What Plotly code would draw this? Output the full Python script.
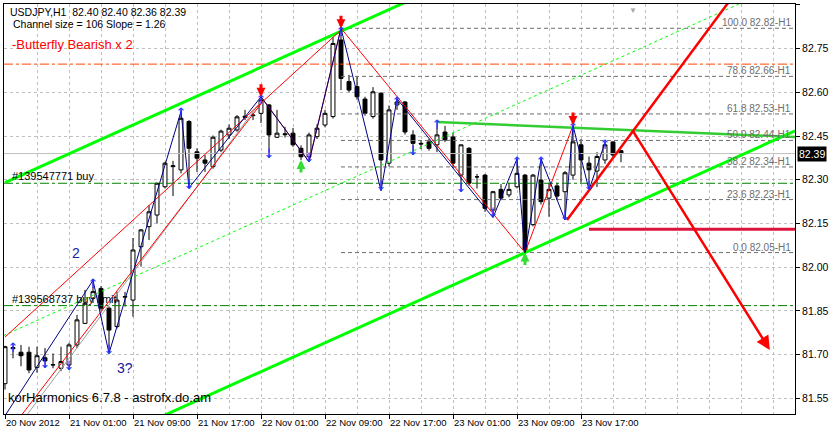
import plotly.graph_objects as go

# ---------------- data ----------------
bar_index = list(range(78))
open_ = [81.600, 81.720, 81.708, 81.708, 81.656, 81.689, 81.664, 81.653, 81.664, 81.733,
         81.807, 81.893, 81.927, 81.859, 81.796, 81.897, 81.887, 82.070, 82.139, 82.179,
         82.276, 82.345, 82.334, 82.500, 82.396, 82.368, 82.345, 82.402, 82.454, 82.471,
         82.514, 82.520, 82.528, 82.557, 82.446, 82.458, 82.460, 82.408, 82.379, 82.448,
         82.488, 82.517, 82.780, 82.637, 82.620, 82.577, 82.517, 82.597, 82.357, 82.557,
         82.567, 82.454, 82.425, 82.430, 82.420, 82.464, 82.447, 82.316, 82.408, 82.310,
         82.316, 82.196, 82.267, 82.248, 82.276, 82.316, 82.146, 82.299, 82.237, 82.279,
         82.259, 82.316, 82.420, 82.357, 82.330, 82.368, 82.430, 82.400]
high = [81.730, 81.733, 81.733, 81.727, 81.727, 81.722, 81.704, 81.727, 81.740, 81.836,
        81.922, 81.955, 81.935, 81.865, 81.915, 81.915, 82.100, 82.130, 82.213, 82.290,
        82.362, 82.365, 82.540, 82.505, 82.408, 82.385, 82.452, 82.472, 82.490, 82.522,
        82.540, 82.530, 82.585, 82.560, 82.540, 82.482, 82.478, 82.418, 82.462, 82.490,
        82.540, 82.790, 82.820, 82.660, 82.655, 82.585, 82.618, 82.600, 82.555, 82.578,
        82.570, 82.470, 82.435, 82.440, 82.500, 82.485, 82.462, 82.420, 82.412, 82.320,
        82.320, 82.262, 82.285, 82.290, 82.372, 82.320, 82.320, 82.372, 82.290, 82.290,
        82.330, 82.488, 82.440, 82.380, 82.395, 82.430, 82.432, 82.400]
low = [81.580, 81.687, 81.660, 81.636, 81.638, 81.654, 81.653, 81.643, 81.647, 81.722,
       81.805, 81.877, 81.852, 81.704, 81.790, 81.865, 81.830, 82.002, 82.093, 82.150,
       82.270, 82.244, 82.322, 82.270, 82.327, 82.327, 82.338, 82.395, 82.440, 82.465,
       82.505, 82.505, 82.495, 82.375, 82.444, 82.445, 82.413, 82.368, 82.362, 82.440,
       82.480, 82.510, 82.608, 82.600, 82.575, 82.520, 82.510, 82.265, 82.345, 82.540,
       82.455, 82.385, 82.405, 82.400, 82.395, 82.430, 82.340, 82.258, 82.280, 82.270,
       82.190, 82.172, 82.230, 82.240, 82.270, 82.050, 82.140, 82.215, 82.173, 82.230,
       82.162, 82.300, 82.290, 82.265, 82.275, 82.355, 82.375, 82.360]
close = [81.727, 81.724, 81.696, 81.647, 81.696, 81.678, 81.665, 81.676, 81.733, 81.819,
         81.876, 81.916, 81.859, 81.784, 81.887, 81.899, 82.059, 82.128, 82.190, 82.288,
         82.357, 82.348, 82.511, 82.408, 82.374, 82.357, 82.446, 82.467, 82.477, 82.516,
         82.518, 82.522, 82.574, 82.454, 82.460, 82.455, 82.420, 82.379, 82.454, 82.477,
         82.528, 82.768, 82.648, 82.608, 82.585, 82.528, 82.602, 82.368, 82.540, 82.567,
         82.464, 82.425, 82.423, 82.408, 82.454, 82.437, 82.357, 82.420, 82.288, 82.310,
         82.202, 82.259, 82.237, 82.267, 82.322, 82.059, 82.316, 82.225, 82.267, 82.244,
         82.324, 82.430, 82.368, 82.334, 82.380, 82.420, 82.385, 82.390]

x_tick_bars = [0, 8, 16, 24, 32, 40, 48, 56, 64, 72]
x_tick_labels = ["20 Nov 2012", "21 Nov 01:00", "21 Nov 09:00", "21 Nov 17:00",
                 "22 Nov 01:00", "22 Nov 09:00", "22 Nov 17:00",
                 "23 Nov 01:00", "23 Nov 09:00", "23 Nov 17:00"]
y_tick_prices = [82.90, 82.75, 82.60, 82.45, 82.30, 82.15, 82.00, 81.85, 81.70, 81.55]
y_tick_labels = ["82.90", "82.75", "82.60", "82.45", "82.30", "82.15", "82.00",
                 "81.85", "81.70", "81.55"]

fib_levels = ["100.0", "78.6", "61.8", "50.0", "38.2", "23.6", "0.0"]
fib_prices = [82.82, 82.655, 82.526, 82.435, 82.344, 82.232, 82.05]
fib_price_labels = ["82.82", "82.66", "82.53", "82.44", "82.34", "82.23", "82.05"]
fib_start_bar = 42

order_levels = [82.288, 81.868]
order_labels = ["#139547771 buy", "#139568737 buy limit"]
tp_level = 82.697
last_price = 82.39
target_level = 82.13
target_bars = [73, 98.75]

zigzag_bars = [0, 11, 13, 22, 23, 32, 38, 42, 47, 49, 61, 64, 65, 67, 70, 71, 73, 75]
zigzag_prices = [81.49, 81.955, 81.704, 82.535, 82.272, 82.585, 82.362, 82.82, 82.262,
                 82.578, 82.170, 82.372, 82.050, 82.372, 82.162, 82.486, 82.265, 82.428]

pattern_bars = [32, 38, 42, 65, 71]
pattern_prices = [82.585, 82.362, 82.82, 82.05, 82.486]

leg1_bars, leg1_prices = [0, 42], [81.76, 82.814]
leg2_bars, leg2_prices = [2.0, 32], [81.49, 82.561]
leg2g_bars, leg2g_prices = [2.66, 32], [81.49, 82.57]

upper_bars, upper_prices = [0, 50], [82.290, 82.909]
lower_bars, lower_prices = [19, 98.75], [81.48, 82.468]
mid_bars, mid_prices = [-0.2, 93], [81.765, 82.919]
res_bars, res_prices = [54, 98.75], [82.498, 82.447]

proj_up_bars, proj_up_prices = [70.25, 91], [82.162, 82.93]
proj_down_bars, proj_down_prices = [78.4, 95.6], [82.471, 81.716]

red_arrow_bars = [32, 42, 71]
green_arrow_bars = [37, 65]
up_mark_bars = [1, 11, 22, 32, 42, 49, 54, 64, 67, 71, 75]
down_mark_bars = [5, 8, 13, 23, 33, 38, 47, 51, 57, 61, 70, 73]

# ---------------- geometry helpers ----------------
Y_MIN, Y_MAX = 81.4959, 82.9034
X_MIN, X_MAX = -0.125, 98.75
PX = 291.3  # pixels per price unit (for small glyph offsets)

fig = go.Figure()

def hline(y0, x0, x1, color, width, dash):
    fig.add_trace(go.Scatter(x=[x0, x1], y=[y0, y0], mode="lines",
                             line=dict(color=color, width=width, dash=dash),
                             hoverinfo="skip"))

# fib lines
for p in fib_prices:
    hline(p, fib_start_bar, X_MAX, "#6e6e6e", 1, "4px,3px")
# order lines
for p in order_levels:
    hline(p, X_MIN, X_MAX, "#008000", 1, "9px,3px,3px,3px")
hline(tp_level, X_MIN, X_MAX, "#FF4500", 1, "9px,3px,3px,3px")
hline(last_price, X_MIN, X_MAX, "#C0C0C0", 1, "solid")

# candles
fig.add_trace(go.Candlestick(
    x=bar_index, open=open_, high=high, low=low, close=close,
    increasing=dict(line=dict(color="black", width=1), fillcolor="white"),
    decreasing=dict(line=dict(color="black", width=1), fillcolor="black"),
    whiskerwidth=0, hoverinfo="skip"))

def seg(xs, ys, color, width, dash="solid"):
    fig.add_trace(go.Scatter(x=xs, y=ys, mode="lines",
                             line=dict(color=color, width=width, dash=dash),
                             hoverinfo="skip"))

# channel
seg(upper_bars, upper_prices, "#00FF00", 3)
seg(lower_bars, lower_prices, "#00FF00", 3)
seg(mid_bars, mid_prices, "#00FF00", 1, "dot")
seg(res_bars, res_prices, "#32CD32", 2.5)

# red legs
seg(leg2g_bars, leg2g_prices, "#A0A0A0", 1)
seg(leg1_bars, leg1_prices, "#FF0000", 1)
seg(leg2_bars, leg2_prices, "#FF0000", 1)
seg(pattern_bars, pattern_prices, "#FF0000", 1)

# zigzag
seg(zigzag_bars, zigzag_prices, "#000080", 1)

# projections
seg(proj_up_bars, proj_up_prices, "#FF0000", 2.5)
seg(target_bars, [target_level, target_level], "#DC143C", 3)

# small swing arrows
fig.add_trace(go.Scatter(x=up_mark_bars, y=[high[b] - 4 / PX for b in up_mark_bars],
                         mode="text", text=["↑"] * len(up_mark_bars),
                         textfont=dict(size=13, color="#1E3CFF", family="DejaVu Sans"),
                         hoverinfo="skip"))
fig.add_trace(go.Scatter(x=down_mark_bars, y=[low[b] + 3 / PX for b in down_mark_bars],
                         mode="text", text=["↓"] * len(down_mark_bars),
                         textfont=dict(size=13, color="#1E3CFF", family="DejaVu Sans"),
                         hoverinfo="skip"))

ann = []
for b in red_arrow_bars:
    ann.append(dict(x=b, y=high[b], xref="x", yref="y", ax=0, ay=-14, text="",
                    showarrow=True, arrowhead=2, arrowsize=0.6, arrowwidth=3,
                    arrowcolor="#FF0000", standoff=0))
for b in green_arrow_bars:
    ann.append(dict(x=b, y=low[b], xref="x", yref="y", ax=0, ay=14, text="",
                    showarrow=True, arrowhead=2, arrowsize=0.6, arrowwidth=3,
                    arrowcolor="#33DD33", standoff=0))
ann.append(dict(x=proj_down_bars[1], y=proj_down_prices[1], xref="x", yref="y",
                ax=proj_down_bars[0], ay=proj_down_prices[0], axref="x", ayref="y",
                text="", showarrow=True, arrowhead=2, arrowsize=1.1, arrowwidth=2.5,
                arrowcolor="#FF0000", standoff=0))

# fib labels
for lvl, p, lab in zip(fib_levels, fib_prices, fib_price_labels):
    ann.append(dict(x=0.9975, xref="paper", y=p, yref="y", xanchor="right", yanchor="bottom",
                    text=f"{lvl} {lab}-H1", showarrow=False,
                    font=dict(size=10, color="#6e6e6e"), yshift=-2))
# order labels
for p, lab in zip(order_levels, order_labels):
    ann.append(dict(x=0.0076, xref="paper", y=p, yref="y", xanchor="left", yanchor="bottom",
                    text=lab, showarrow=False, font=dict(size=11, color="black"), yshift=-1))

def ptext(txt, px, py, size, color, anchor="left"):
    ann.append(dict(x=(px - 4) / 791, y=(414 - py) / 410, xref="paper", yref="paper",
                    xanchor=anchor, yanchor="middle", text=txt, showarrow=False,
                    font=dict(size=size, color=color)))

ptext("USDJPY,H1  82.40 82.40 82.36 82.39", 8, 12, 10.5, "black")
ptext("Channel size = 106 Slope = 1.26", 11, 24, 10.5, "black")
ptext("-Butterfly Bearish x 2", 10, 45, 13, "#FF0000")
ptext("korHarmonics 6.7.8 - astrofx.do.am", 6, 397, 13, "black")

ann.append(dict(x=8.9, y=82.05, xref="x", yref="y", text="2", showarrow=False,
                font=dict(size=14, color="#2020A0")))
ann.append(dict(x=15.0, y=81.654, xref="x", yref="y", text="3?", showarrow=False,
                font=dict(size=14, color="#2020A0")))

# current price tag
ann.append(dict(x=1, xref="paper", y=last_price, yref="y", xanchor="left", yanchor="middle",
                xshift=2, text=f"{last_price:.2f}", showarrow=False, bgcolor="black",
                font=dict(size=10.5, color="white"), borderpad=1))
# chart shift marker
ann.append(dict(x=78.5, xref="x", y=1, yref="paper", yanchor="top", text="▼",
                showarrow=False, font=dict(size=8, color="#A8A8A8")))

grid = "#C0C0C0"
fig.update_layout(
    width=837, height=434,
    margin=dict(l=4, r=42, t=4, b=20),
    paper_bgcolor="white", plot_bgcolor="white",
    showlegend=False,
    font=dict(family="Liberation Sans", size=10.5, color="black"),
    annotations=ann,
    xaxis=dict(range=[X_MIN, X_MAX], tickmode="array", tickvals=x_tick_bars,
               ticktext=x_tick_labels, ticks="outside", ticklen=4, tickcolor="black",
               tickangle=0, ticklabelposition="outside right",
               tickfont=dict(size=9.5), showline=True,
               linecolor="black", mirror=True, showgrid=True, gridcolor=grid,
               griddash="3px,3px", zeroline=False, rangeslider=dict(visible=False),
               minor=dict(tick0=0, dtick=4, showgrid=True, gridcolor=grid,
                          griddash="3px,3px", ticks="")),
    yaxis=dict(range=[Y_MIN, Y_MAX], side="right", tickmode="array",
               tickvals=y_tick_prices, ticktext=y_tick_labels, ticks="outside",
               ticklen=4, tickcolor="black", showline=True, linecolor="black",
               mirror=True, showgrid=True, gridcolor=grid, griddash="3px,3px",
               zeroline=False),
)

fig.write_html("out.html", config={"displayModeBar": False},
               post_script="document.body.style.margin='0';")
